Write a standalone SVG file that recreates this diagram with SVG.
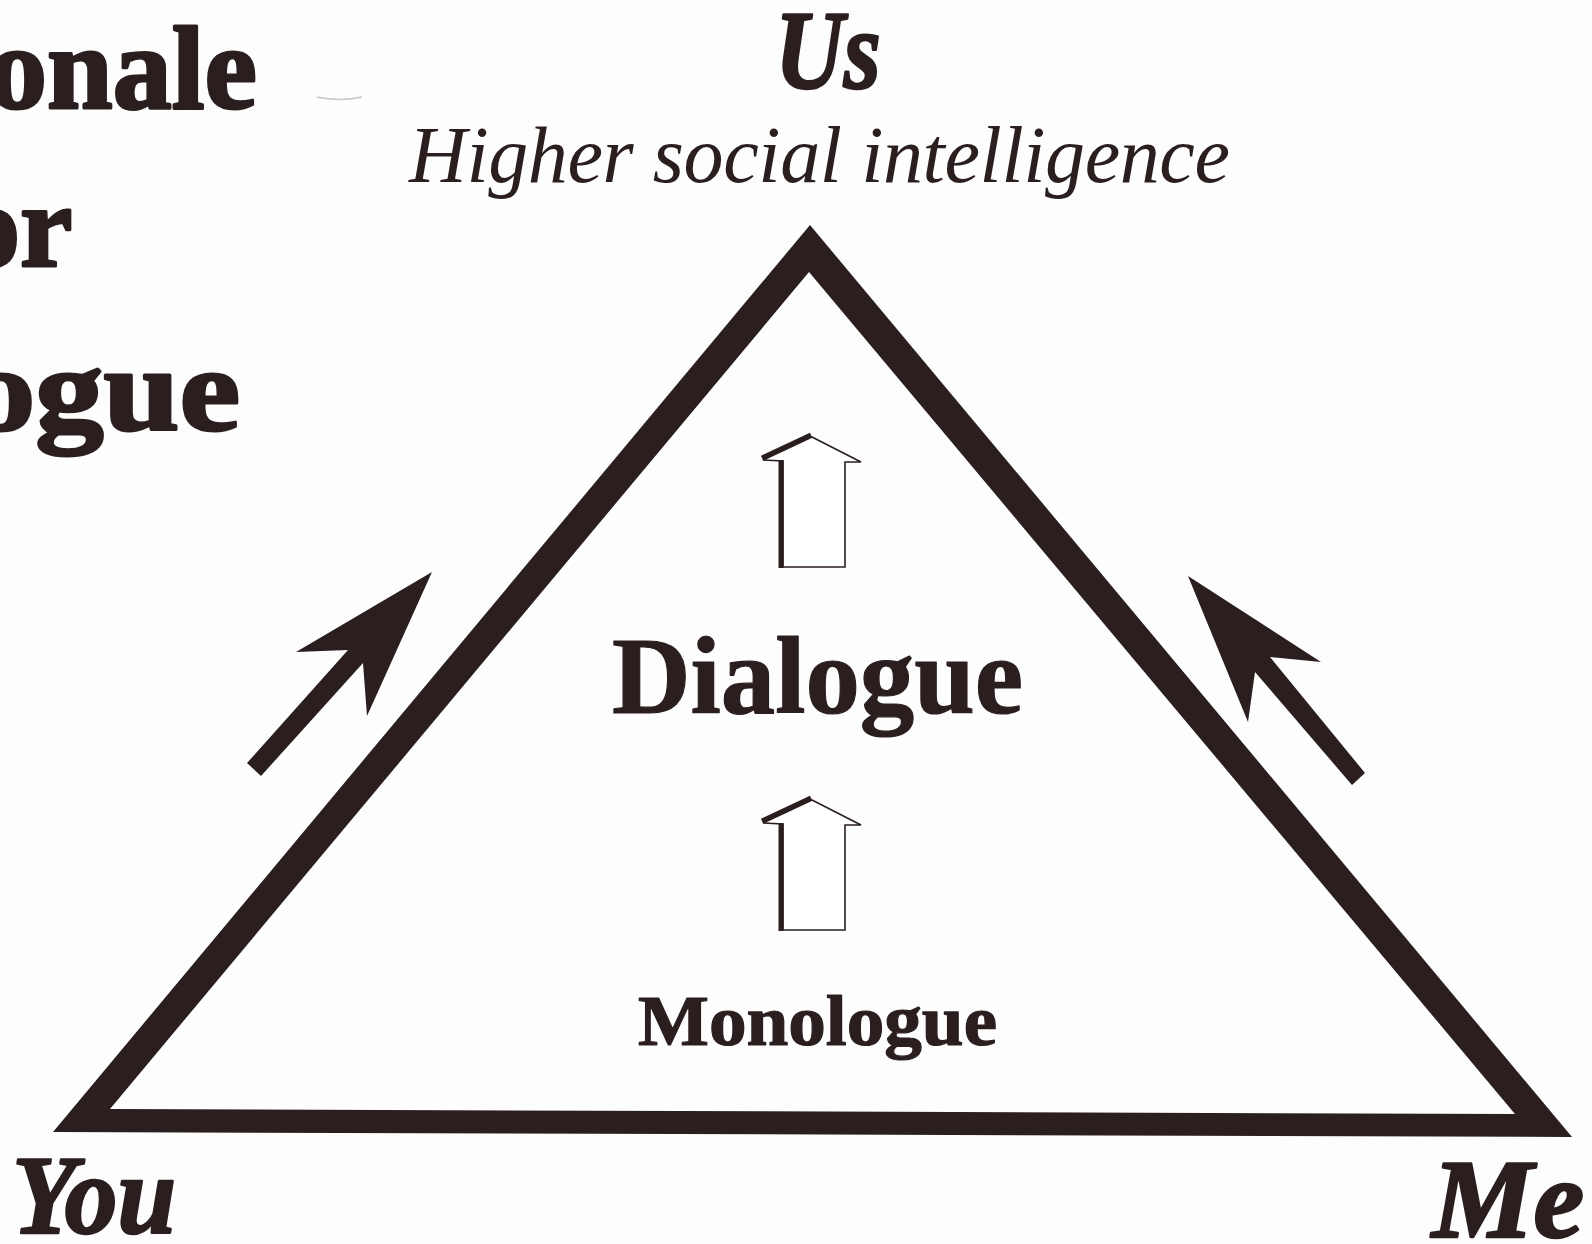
<svg xmlns="http://www.w3.org/2000/svg" width="1592" height="1244" viewBox="0 0 1592 1244">
  <style>
    .ink { fill: #2a1e1f; }
    .lbl { fill: #2a1e1f; font-family: "Liberation Serif", "Times New Roman", serif; }
    .bi { font-weight: bold; font-style: italic; stroke: #2a1e1f; stroke-width: 2.5; stroke-linejoin: round; }
    .b { font-weight: bold; stroke: #2a1e1f; stroke-width: 1.2; stroke-linejoin: round; }
    .i { font-style: italic; }
    .title { fill: #2a1e1f; stroke: #2a1e1f; stroke-width: 3; stroke-linejoin: round; font-family: "Liberation Serif", "Times New Roman", serif; font-weight: bold; font-size: 118px; }
    .hollow { fill: #ffffff; stroke: #2a1e1f; stroke-width: 1.6; stroke-linejoin: miter; }
    .shadow { fill: none; stroke: #2a1e1f; stroke-width: 5; stroke-linecap: butt; }
  </style>
  <defs>
    <g id="hollowArrow">
      <path class="hollow" d="M812,437 L861,462 L845,462 L845,567 L783,567 L783,461 L763,460 Z"/>
      <line class="shadow" x1="781" y1="460" x2="781" y2="568"/>
      <line class="shadow" x1="762" y1="458" x2="811" y2="435"/>
    </g>
  </defs>
  <rect width="1592" height="1244" fill="#fdfdfd"/>

  <!-- partial title on the left (cut by the page edge, as in the picture) -->
  <g id="title">
    <text class="title" x="-12" y="108">onale</text>
    <text class="title" x="-39" y="266">or</text>
    <text class="title" x="-33" y="430" font-size="128" textLength="273" lengthAdjust="spacingAndGlyphs">ogue</text>
  </g>
  <path d="M317,97 Q340,102 362,97" fill="none" stroke="#c8c8c8" stroke-width="1.5"/>

  <!-- triangle -->
  <g id="triangle">
    <path class="ink" fill-rule="evenodd" d="M810,225 L1572,1137 L53,1132 Z M809,272 L110,1109 L1515,1114 Z"/>
  </g>

  <g id="node-us">
    <text class="lbl bi" x="828" y="88" font-size="113" text-anchor="middle" textLength="106" lengthAdjust="spacingAndGlyphs">Us</text>
    <text class="lbl i" x="409" y="182" font-size="80" textLength="821" lengthAdjust="spacing">Higher social intelligence</text>
  </g>
  <g id="node-dialogue">
    <text class="lbl b" x="612" y="713" font-size="110" textLength="411" lengthAdjust="spacingAndGlyphs">Dialogue</text>
  </g>
  <g id="node-monologue">
    <text class="lbl b" x="638" y="1045" font-size="72" textLength="359" lengthAdjust="spacingAndGlyphs">Monologue</text>
  </g>
  <g id="node-you">
    <text class="lbl bi" x="12" y="1233" font-size="112" textLength="164" lengthAdjust="spacingAndGlyphs">You</text>
  </g>
  <g id="node-me">
    <text class="lbl bi" x="1432" y="1237" font-size="112" textLength="152" lengthAdjust="spacingAndGlyphs">Me</text>
  </g>

  <g id="connectors">
    <polygon class="ink" points="432,572 296,652 348,650 247,763 261,776 363,663 367,716"/>
    <polygon class="ink" points="1188,576 1321,662 1270,657 1365,773 1352,785 1255,672 1248,722"/>
    <use href="#hollowArrow"/>
    <use href="#hollowArrow" transform="translate(0,363)"/>
  </g>
</svg>
